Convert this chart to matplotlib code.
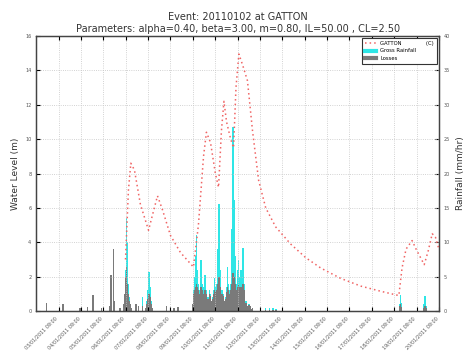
import datetime as dt
import matplotlib
matplotlib.use("Agg")
import matplotlib.pyplot as plt
import matplotlib.dates as mdates
from matplotlib.lines import Line2D

# event window
t_start = dt.datetime(2011, 1, 2, 9, 0)
t_end = dt.datetime(2011, 1, 20, 9, 0)

# water level at GATTON (hours after t_start, metres)
level_hours = [95.8, 98.9, 101.5, 105.4, 111.8, 120.5, 124.8, 130.1, 135.4, 144,
               154.8, 168.7, 174, 179.5, 182.6, 187, 192.2, 195.6, 198.7, 201.4,
               204.2, 208.6, 211.7, 214.3, 217.4, 221.5, 226.6, 232, 238.6, 246.2,
               256.8, 272.9, 289.2, 305.3, 326.6, 348.2, 369.6, 389, 392.4, 396.7,
               403.2, 407.5, 416.2, 420.5, 424.8, 428.2, 432]
level_m = [3.0, 7.0, 8.6, 8.2, 6.2, 4.7, 5.6, 6.7, 5.9, 4.4,
           3.4, 2.56, 5.0, 9.0, 10.4, 9.8, 8.0, 7.2, 10.5, 12.2,
           11.0, 10.0, 9.5, 13.0, 14.95, 14.3, 13.4, 10.5, 7.6, 6.0,
           4.9, 3.9, 3.1, 2.5, 1.9, 1.45, 1.15, 0.9, 2.5, 3.6,
           4.1, 3.6, 2.7, 3.5, 4.5, 4.3, 3.6]

# hourly rainfall (hours after t_start, mm/hr)
rain_hours = ([11, 29, 47, 55, 61, 70, 79, 80, 81, 83, 84, 90]
              + list(range(94, 103)) + [107, 110, 114] + list(range(118, 125))
              + [140, 148, 152] + list(range(168, 233))
              + [246, 250, 254, 257] + [390, 391, 392, 416, 417, 418])
gross_rain = ([1.2, 1.0, 0.4, 0.6, 2.4, 0.4, 0.8, 5.2, 1.0, 9.0, 1.5, 0.5]
              + [1.0, 2.5, 6.0, 13.5, 10.0, 4.0, 2.0, 1.0, 0.5]
              + [1.0, 0.8, 2.0]
              + [0.5, 1.5, 3.0, 5.7, 3.5, 1.5, 0.5]
              + [0.8, 0.4, 0.6]
              + [1.0, 3.0, 5.0, 8.0, 11.0, 6.0, 4.0, 3.0, 5.0, 7.4,
                 4.0, 2.5, 3.5, 5.2, 3.0, 2.0, 1.5, 2.0, 3.0, 2.5,
                 1.5, 2.0, 3.0, 4.8, 3.5, 2.0, 4.0, 9.0, 15.6, 6.0,
                 3.0, 2.0, 3.0, 2.5, 1.5, 2.0, 3.5, 6.4, 4.0, 2.0,
                 3.0, 4.0, 12.0, 26.8, 16.1, 8.0, 5.0, 4.0, 6.0, 7.4,
                 5.0, 6.0, 6.0, 5.0, 9.1, 4.0, 1.0, 1.5, 0.8, 0.5,
                 1.0, 0.5, 0.8, 0.3, 0.5]
              + [0.5, 0.4, 0.5, 0.3]
              + [1.0, 2.3, 1.2, 1.0, 2.2, 0.8])
losses = ([1.2, 1.0, 0.4, 0.6, 2.4, 0.4, 0.8, 5.2, 1.0, 9.0, 1.5, 0.5]
          + [1.0, 2.5, 5.0, 6.4, 4.0, 2.5, 1.5, 1.0, 0.5]
          + [1.0, 0.8, 0.8]
          + [0.5, 1.0, 1.8, 2.5, 2.0, 1.0, 0.4]
          + [0.8, 0.4, 0.6]
          + [1.0, 2.5, 3.0, 3.5, 4.0, 3.5, 3.0, 2.5, 3.0, 3.5,
             3.0, 2.2, 2.5, 3.0, 2.5, 1.8, 1.3, 1.8, 2.5, 2.2,
             1.4, 1.8, 2.5, 3.0, 2.8, 1.8, 3.0, 4.0, 5.0, 3.5,
             2.5, 1.8, 2.5, 2.2, 1.4, 1.8, 2.8, 3.5, 3.0, 1.8,
             2.5, 3.0, 4.0, 5.5, 5.0, 4.0, 3.5, 3.0, 3.5, 3.8,
             3.5, 3.5, 3.5, 3.5, 4.0, 3.0, 1.0, 1.2, 0.8, 0.5,
             0.9, 0.5, 0.7, 0.3, 0.4]
          + [0.1, 0.1, 0.1, 0.1]
          + [0.8, 1.0, 0.6, 0.5, 0.8, 0.4])

level_t = [mdates.date2num(t_start + dt.timedelta(hours=h)) for h in level_hours]
rain_t = [mdates.date2num(t_start + dt.timedelta(hours=h)) for h in rain_hours]

fig = plt.figure(figsize=(4.64, 3.6), dpi=100)
ax1 = fig.add_axes([0.078, 0.136, 0.868, 0.764])
ax2 = ax1.twinx()

# rainfall on the right axis, drawn below the water level
ax2.bar(rain_t, gross_rain, width=1.6 / 24, color="#2ee6e6", edgecolor="none", align="center")
ax2.bar(rain_t, losses, width=1.6 / 24, color="#7a7a7a", edgecolor="none", align="center")
ax2.set_ylim(0, 40)
ax2.set_yticks(range(0, 41, 5))
ax2.set_ylabel("Rainfall (mm/hr)", fontsize=6.5, color="#333333")

ax1.set_zorder(ax2.get_zorder() + 1)
ax1.patch.set_visible(False)
ax1.plot(level_t, level_m, color="#f06464", linestyle=(0, (1, 2)), lw=1.1)
ax1.set_ylim(0, 16)
ax1.set_yticks(range(0, 17, 2))
ax1.set_xlim(mdates.date2num(t_start), mdates.date2num(t_end))
ax1.set_xticks([mdates.date2num(t_start + dt.timedelta(days=d)) for d in range(1, 19)])
ax1.xaxis.set_major_formatter(mdates.DateFormatter("%d/%m/%Y %H:%M"))
ax1.set_ylabel("Water Level (m)", fontsize=6.5, color="#333333")
ax1.grid(True, color="#c4c4c4", linestyle=":", lw=0.6)

for lbl in ax1.get_xticklabels():
    lbl.set_rotation(45)
    lbl.set_ha("right")
    lbl.set_fontsize(3.5)
    lbl.set_color("#555555")
ax1.tick_params(axis="y", labelsize=3.5, labelcolor="#555555", direction="in", length=3)
ax1.tick_params(axis="x", direction="in", length=3, top=True)
ax2.tick_params(axis="y", labelsize=3.5, labelcolor="#555555", direction="in", length=3)

for ax in (ax1, ax2):
    for sp in ax.spines.values():
        sp.set_color("#444444")
        sp.set_linewidth(0.9)

ax1.set_title("Event: 20110102 at GATTON\n"
              "Parameters: alpha=0.40, beta=3.00, m=0.80, IL=50.00 , CL=2.50",
              fontsize=7, pad=3, linespacing=1.2, color="#333333")

handles = [Line2D([], [], color="#f06464", linestyle=(0, (1, 2)), lw=1.1),
           Line2D([], [], color="#2ee6e6", lw=3),
           Line2D([], [], color="#7a7a7a", lw=3)]
leg = ax1.legend(handles, ["GATTON               (C)", "Gross Rainfall", "Losses"],
                 loc="upper right", fontsize=3.8, fancybox=False, framealpha=1,
                 edgecolor="#333333", borderpad=0.5, handlelength=2.2,
                 labelspacing=0.5, borderaxespad=0.4)
leg.get_frame().set_linewidth(0.8)

fig.savefig("out.png", dpi=100)
